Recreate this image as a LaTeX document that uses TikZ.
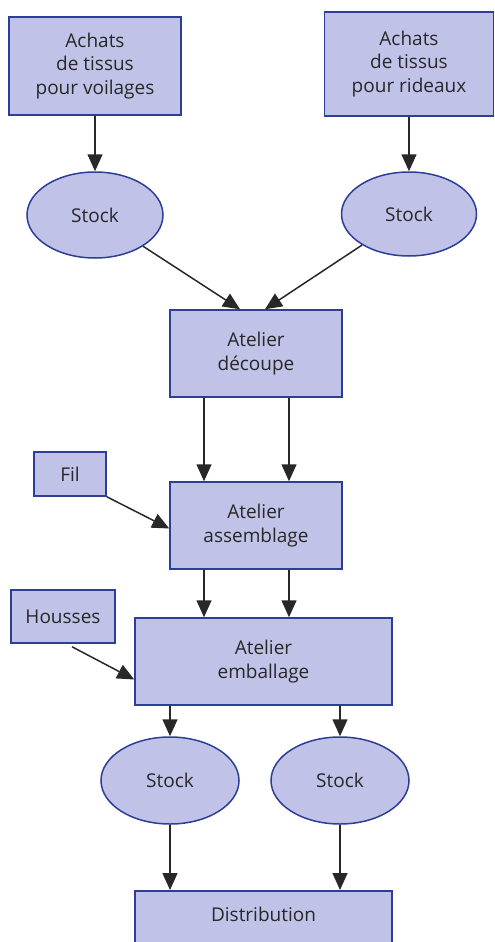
\documentclass[tikz,border=0pt]{standalone}
\usepackage{fontspec}
\setmainfont{Open Sans}
\usepackage{xcolor}
\usepackage{tikz}
\usetikzlibrary{shapes,arrows.meta,positioning}
\definecolor{boxfill}{RGB}{192,194,232}
\definecolor{boxedge}{RGB}{44,62,150}
\definecolor{inkgray}{RGB}{40,40,40}

\begin{document}
\begin{tikzpicture}[
    x=1pt, y=-1pt,
    font=\fontsize{19}{23.5}\selectfont,
    every node/.style={text=inkgray},
    box/.style={rectangle, draw=boxedge, fill=boxfill, line width=1.5pt, align=center, inner sep=0pt},
    stock/.style={ellipse, draw=boxedge, fill=boxfill, line width=1.5pt, inner sep=0pt},
    flow/.style={-{Triangle[length=17pt,width=15pt]}, line width=1.5pt, draw=inkgray}
]
\useasboundingbox (0,0) rectangle (495,942);

% Purchases
\node[box, minimum width=172pt, minimum height=98pt] (achatsV) at (95,66) {Achats\\de tissus\\pour voilages};
\node[box, minimum width=169pt, minimum height=104pt] (achatsR) at (409,64) {Achats\\de tissus\\pour rideaux};

% Raw stocks
\node[stock, minimum width=136pt, minimum height=86pt] (stockV) at (95,215) {Stock};
\node[stock, minimum width=135pt, minimum height=84pt] (stockR) at (409,214) {Stock};

% Workshops
\node[box, minimum width=172pt, minimum height=87pt] (decoupe) at (256,353.5) {Atelier\\découpe};
\node[box, minimum width=172pt, minimum height=87pt] (assemblage) at (256,525.5) {Atelier\\assemblage};
\node[box, minimum width=257pt, minimum height=87pt] (emballage) at (263.5,661.5) {Atelier\\emballage};

% Supplies
\node[box, minimum width=72pt, minimum height=44pt] (fil) at (70,474) {Fil};
\node[box, minimum width=104pt, minimum height=53pt] (housses) at (63,616.5) {Housses};

% Finished stocks
\node[stock, minimum width=138pt, minimum height=87pt] (stockA) at (170,780.5) {Stock};
\node[stock, minimum width=138pt, minimum height=87pt] (stockB) at (340,780.5) {Stock};

% Distribution (cut by the page edge)
\node[box, anchor=north, minimum width=257pt, text height=27pt, text depth=30pt, inner ysep=4pt] (distribution) at (263.5,890) {Distribution};

% Arrows
\draw[flow] (achatsV) -- (stockV);
\draw[flow] (achatsR) -- (stockR);
\draw[flow] (stockV) -- ([xshift=-16pt]decoupe.north);
\draw[flow] (stockR) -- ([xshift=9pt]decoupe.north);
\draw[flow] ([xshift=-52pt]decoupe.south) -- ([xshift=-52pt]assemblage.north);
\draw[flow] ([xshift=33pt]decoupe.south) -- ([xshift=33pt]assemblage.north);
\draw[flow] (fil.south east) -- ([yshift=-3pt]assemblage.west);
\draw[flow] ([xshift=-52pt]assemblage.south) -- ([xshift=-52pt]assemblage.south |- emballage.north);
\draw[flow] ([xshift=33pt]assemblage.south) -- ([xshift=33pt]assemblage.south |- emballage.north);
\draw[flow] ([xshift=9pt,yshift=-3pt]housses.south) -- ([yshift=-18pt]emballage.west);
\draw[flow] (emballage.south -| stockA) -- (stockA.north);
\draw[flow] (emballage.south -| stockB) -- (stockB.north);
\draw[flow] (stockA.south) -- (stockA.south |- distribution.north);
\draw[flow] (stockB.south) -- (stockB.south |- distribution.north);

\end{tikzpicture}
\end{document}
